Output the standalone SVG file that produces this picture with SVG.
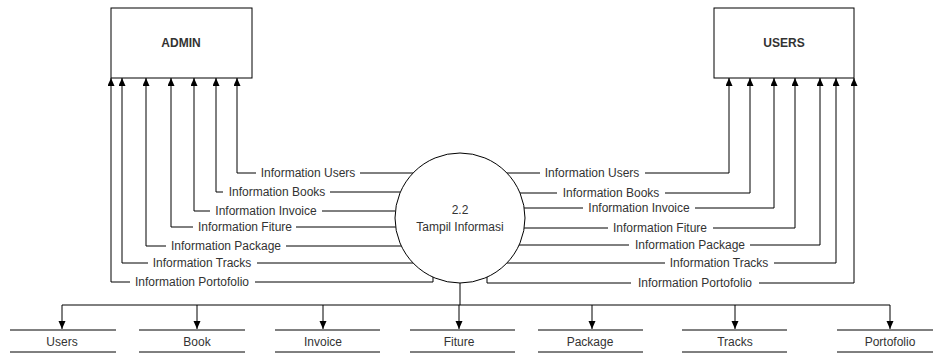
<svg xmlns="http://www.w3.org/2000/svg" width="933" height="354" viewBox="0 0 933 354">
<style>
.box{fill:#fff;stroke:#000;stroke-width:1}
.ln{fill:none;stroke:#000;stroke-width:1}
.bg{fill:#fff}
.t{font-family:"Liberation Sans",Arial,sans-serif;fill:#000;text-anchor:middle}
.b{font-size:12px;font-weight:bold;fill:#333}
.lbl{font-size:12px;fill:#333}
.s{font-size:12px;fill:#333}
.c{font-size:12px;fill:#333}
</style>
<defs>
<marker id="ah" markerWidth="8" markerHeight="8" refX="8" refY="3.5" orient="auto" markerUnits="userSpaceOnUse">
<path d="M0,0 L8,3.5 L0,7 Z" fill="#000"/>
</marker>
</defs>
<rect width="933" height="354" fill="#fff"/>
<g id="connectors">
<path class="ln" marker-end="url(#ah)" d="M413,173 H237 V78"/>
<path class="ln" marker-end="url(#ah)" d="M400,192 H216 V78"/>
<path class="ln" marker-end="url(#ah)" d="M395,211 H194 V78"/>
<path class="ln" marker-end="url(#ah)" d="M396,227 H171 V78"/>
<path class="ln" marker-end="url(#ah)" d="M401,246 H146 V78"/>
<path class="ln" marker-end="url(#ah)" d="M413,263 H122 V78"/>
<path class="ln" marker-end="url(#ah)" d="M433,277 V282 H111 V78"/>
<path class="ln" marker-end="url(#ah)" d="M507,173 H729 V78"/>
<path class="ln" marker-end="url(#ah)" d="M520,193 H750 V78"/>
<path class="ln" marker-end="url(#ah)" d="M524,208 H774 V78"/>
<path class="ln" marker-end="url(#ah)" d="M524,228 H795 V78"/>
<path class="ln" marker-end="url(#ah)" d="M519,245 H820 V78"/>
<path class="ln" marker-end="url(#ah)" d="M507,263 H836 V78"/>
<path class="ln" marker-end="url(#ah)" d="M487,277 V283 H854 V78"/>
<path class="ln" d="M460,283 V305 M62,305 H890"/>
<path class="ln" marker-end="url(#ah)" d="M62,305 V329"/>
<path class="ln" marker-end="url(#ah)" d="M197,305 V329"/>
<path class="ln" marker-end="url(#ah)" d="M323,305 V329"/>
<path class="ln" marker-end="url(#ah)" d="M459,305 V329"/>
<path class="ln" marker-end="url(#ah)" d="M592,305 V329"/>
<path class="ln" marker-end="url(#ah)" d="M735,305 V329"/>
<path class="ln" marker-end="url(#ah)" d="M890,305 V329"/>
<rect class="bg" x="256" y="167" width="104" height="12"/>
<rect class="bg" x="223" y="186" width="107" height="12"/>
<rect class="bg" x="210" y="205" width="112" height="12"/>
<rect class="bg" x="193" y="221" width="103" height="12"/>
<rect class="bg" x="166" y="240" width="120" height="12"/>
<rect class="bg" x="148" y="257" width="109" height="12"/>
<rect class="bg" x="130" y="276" width="125" height="12"/>
<rect class="bg" x="540" y="167" width="105" height="12"/>
<rect class="bg" x="557" y="187" width="108" height="12"/>
<rect class="bg" x="583" y="202" width="112" height="12"/>
<rect class="bg" x="608" y="222" width="105" height="12"/>
<rect class="bg" x="629" y="239" width="121" height="12"/>
<rect class="bg" x="665" y="257" width="109" height="12"/>
<rect class="bg" x="631" y="277" width="128" height="12"/>
<text class="t lbl" x="308" y="177">Information Users</text>
<text class="t lbl" x="277" y="196">Information Books</text>
<text class="t lbl" x="266" y="215">Information Invoice</text>
<text class="t lbl" x="245" y="231">Information Fiture</text>
<text class="t lbl" x="226" y="250">Information Package</text>
<text class="t lbl" x="202" y="267">Information Tracks</text>
<text class="t lbl" x="192" y="286">Information Portofolio</text>
<text class="t lbl" x="592" y="177">Information Users</text>
<text class="t lbl" x="611" y="197">Information Books</text>
<text class="t lbl" x="639" y="212">Information Invoice</text>
<text class="t lbl" x="660" y="232">Information Fiture</text>
<text class="t lbl" x="690" y="249">Information Package</text>
<text class="t lbl" x="719" y="267">Information Tracks</text>
<text class="t lbl" x="695" y="287">Information Portofolio</text>
</g>
<g id="admin">
<rect class="box" x="111" y="8" width="141" height="70"/>
<text class="t b" x="181" y="47">ADMIN</text>
</g>
<g id="users">
<rect class="box" x="714" y="8" width="140" height="70"/>
<text class="t b" x="784" y="47">USERS</text>
</g>
<g id="process">
<circle class="box" cx="460" cy="218" r="65"/>
<text class="t c" x="460" y="214">2.2</text>
<text class="t c" x="460" y="231">Tampil Informasi</text>
</g>
<g id="store-users">
<path class="ln" d="M10,330 H116 M10,352 H116"/>
<text class="t s" x="62" y="346">Users</text>
</g>
<g id="store-book">
<path class="ln" d="M139,330 H245 M139,352 H245"/>
<text class="t s" x="197" y="346">Book</text>
</g>
<g id="store-invoice">
<path class="ln" d="M275,330 H380 M275,352 H380"/>
<text class="t s" x="323" y="346">Invoice</text>
</g>
<g id="store-fiture">
<path class="ln" d="M410,330 H515 M410,352 H515"/>
<text class="t s" x="459" y="346">Fiture</text>
</g>
<g id="store-package">
<path class="ln" d="M538,330 H643 M538,352 H643"/>
<text class="t s" x="590" y="346">Package</text>
</g>
<g id="store-tracks">
<path class="ln" d="M682,330 H787 M682,352 H787"/>
<text class="t s" x="735" y="346">Tracks</text>
</g>
<g id="store-portofolio">
<path class="ln" d="M837,330 H933 M837,352 H933"/>
<text class="t s" x="890" y="346">Portofolio</text>
</g>
</svg>
